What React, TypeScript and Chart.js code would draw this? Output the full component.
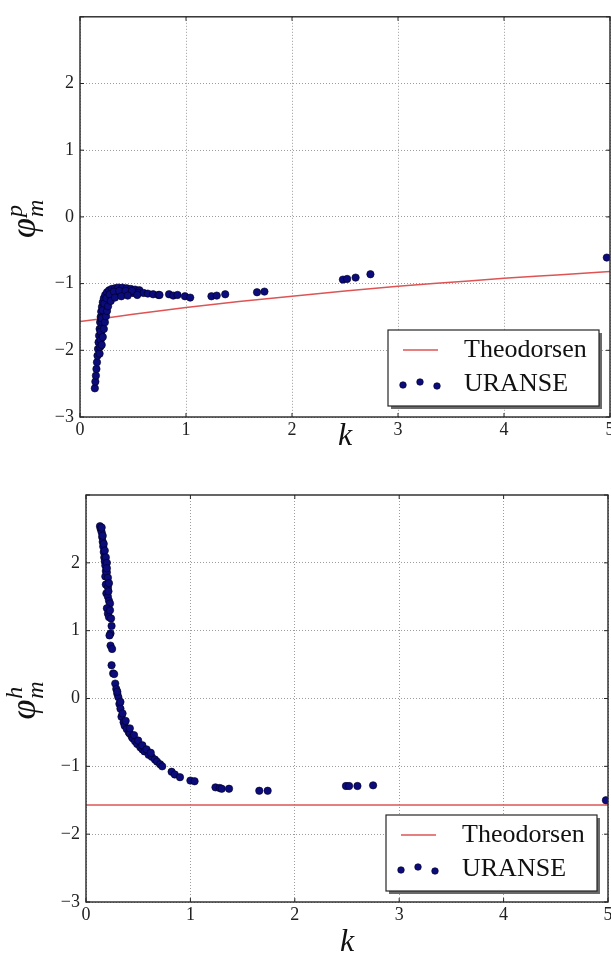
import React, { useEffect, useRef } from 'react';
import { Chart, registerables } from 'chart.js';

Chart.register(...registerables);

// ---------- data ----------
const kTicks = [0, 1, 2, 3, 4, 5];
const phiTicks = [-3, -2, -1, 0, 1, 2, 3];

const theoKPitch = [0, 0.5, 1, 1.5, 2, 2.5, 3, 3.5, 4, 4.5, 5];
const theoPhiPitch = [-1.57, -1.46, -1.36, -1.27, -1.19, -1.11, -1.04, -0.98, -0.92, -0.87, -0.82];

const theoKHeave = [0, 5];
const theoPhiHeave = [-1.57, -1.57];

const uranseKPitch = [
  0.140, 0.145, 0.150, 0.155, 0.160, 0.165, 0.170, 0.175, 0.180, 0.185,
  0.190, 0.195, 0.200, 0.207, 0.215, 0.225, 0.238, 0.255, 0.275, 0.300,
  0.330, 0.360, 0.400, 0.440, 0.480, 0.520, 0.560,
  0.185, 0.190, 0.195, 0.200, 0.205, 0.210, 0.218, 0.226, 0.235, 0.245,
  0.258, 0.275, 0.295, 0.320, 0.350, 0.380, 0.420, 0.460, 0.500, 0.550,
  0.600, 0.640, 0.690, 0.740,
  0.195, 0.205, 0.215, 0.230, 0.250, 0.280, 0.320, 0.370, 0.430, 0.490,
  0.205, 0.215, 0.225, 0.235, 0.245, 0.255, 0.265, 0.290, 0.330, 0.390, 0.450, 0.540,
  0.750, 0.840, 0.880, 0.920, 0.990, 1.040, 1.240, 1.290, 1.370, 1.670,
  1.740, 2.480, 2.520, 2.600, 2.740, 4.970,
];
const uransePhiPitch = [
  -2.57, -2.47, -2.38, -2.28, -2.18, -2.08, -1.98, -1.88, -1.78, -1.68,
  -1.58, -1.50, -1.42, -1.35, -1.28, -1.22, -1.17, -1.13, -1.10, -1.08,
  -1.07, -1.06, -1.06, -1.07, -1.08, -1.09, -1.10,
  -2.05, -1.95, -1.85, -1.76, -1.67, -1.58, -1.50, -1.43, -1.37, -1.31,
  -1.26, -1.22, -1.19, -1.17, -1.16, -1.15, -1.15, -1.14, -1.14, -1.14,
  -1.14, -1.15, -1.16, -1.17,
  -1.72, -1.52, -1.40, -1.30, -1.22, -1.16, -1.12, -1.11, -1.11, -1.11,
  -1.92, -1.80, -1.68, -1.58, -1.49, -1.41, -1.34, -1.26, -1.21, -1.19, -1.18, -1.17,
  -1.17, -1.16, -1.18, -1.17, -1.19, -1.21, -1.19, -1.18, -1.16, -1.13,
  -1.12, -0.94, -0.93, -0.91, -0.86, -0.61,
];

const uranseKHeave = [
  0.134, 0.140, 0.150, 0.155, 0.160, 0.165, 0.170, 0.175, 0.180, 0.185,
  0.190, 0.185, 0.200, 0.190, 0.210, 0.195, 0.210, 0.220, 0.230, 0.200,
  0.210, 0.220, 0.245, 0.235, 0.225, 0.235, 0.250, 0.245, 0.260, 0.270,
  0.280, 0.290, 0.300, 0.310, 0.320, 0.330, 0.340, 0.360, 0.370, 0.390,
  0.410, 0.420, 0.440, 0.450, 0.470, 0.490, 0.520, 0.540, 0.560, 0.600,
  0.630, 0.660, 0.680, 0.710, 0.730, 0.820, 0.850, 0.900, 1.000, 1.040,
  1.240, 1.280, 1.300, 1.370, 1.660, 1.740, 2.490, 2.520, 2.600, 2.750, 4.980,
  0.150, 0.160, 0.170, 0.180, 0.190, 0.200, 0.200, 0.210, 0.220, 0.215, 0.230, 0.240,
  0.300, 0.330, 0.350, 0.380, 0.420, 0.460, 0.500, 0.540, 0.580, 0.620,
];
const uransePhiHeave = [
  2.54, 2.50, 2.45, 2.38, 2.31, 2.24, 2.16, 2.08, 2.02, 1.96,
  1.88, 1.80, 1.86, 1.68, 1.64, 1.55, 1.50, 1.44, 1.40, 1.33,
  1.25, 1.20, 1.07, 0.96, 0.93, 0.78, 0.73, 0.49, 0.37, 0.36,
  0.22, 0.14, 0.07, 0.02, -0.08, -0.15, -0.27, -0.35, -0.40, -0.45,
  -0.50, -0.52, -0.57, -0.59, -0.63, -0.67, -0.72, -0.75, -0.78, -0.83,
  -0.86, -0.90, -0.93, -0.97, -1.00, -1.08, -1.12, -1.16, -1.21, -1.22,
  -1.31, -1.32, -1.33, -1.33, -1.36, -1.36, -1.29, -1.29, -1.29, -1.28, -1.50,
  2.52, 2.40, 2.28, 2.18, 2.08, 2.00, 1.92, 1.78, 1.70, 1.58, 1.30, 1.18,
  0.10, -0.05, -0.22, -0.33, -0.44, -0.54, -0.62, -0.69, -0.75, -0.80,
];

const legendLabels = ['Theodorsen', 'URANSE'];

// ---------- styles ----------
const SERIF = '"Liberation Serif", "DejaVu Serif", serif';
const THEO_COLOR = 'rgb(222,84,84)';
const DOT_COLOR = '#0b0b7c';
const DOT_EDGE = '#00001e';
const FRAME = '#262626';

const zip = (xs: number[], ys: number[]) => xs.map((x, i) => ({ x, y: ys[i] }));

const decorPlugin: any = {
  id: 'decor',
  afterDraw(chart: any, _args: any, opts: any) {
    const { ctx, chartArea: a, scales } = chart;
    const xs = scales.x;
    const ys = scales.y;
    ctx.save();
    const line = (x1: number, y1: number, x2: number, y2: number) => {
      ctx.beginPath();
      ctx.moveTo(x1, y1);
      ctx.lineTo(x2, y2);
      ctx.stroke();
    };
    // inward ticks on all four sides
    ctx.strokeStyle = FRAME;
    ctx.lineWidth = 1;
    for (const t of kTicks) {
      const px = xs.getPixelForValue(t);
      line(px, a.bottom, px, a.bottom - 4);
      line(px, a.top, px, a.top + 4);
    }
    for (const t of phiTicks) {
      const py = ys.getPixelForValue(t);
      line(a.left, py, a.left + 4, py);
      line(a.right, py, a.right - 4, py);
    }
    // frame
    ctx.lineWidth = 1.4;
    ctx.strokeRect(a.left, a.top, a.right - a.left, a.bottom - a.top);

    // x title
    ctx.fillStyle = '#111';
    ctx.font = `italic 32px ${SERIF}`;
    ctx.textAlign = 'center';
    ctx.textBaseline = 'middle';
    ctx.fillText('k', (a.left + a.right) / 2, opts.kY);

    // y title  φ_m^sup (rotated)
    ctx.save();
    ctx.translate(35, (a.top + a.bottom) / 2 + 2);
    ctx.rotate(-Math.PI / 2);
    ctx.textAlign = 'left';
    ctx.textBaseline = 'alphabetic';
    const big = `italic 36px ${SERIF}`;
    const small = `italic 24px ${SERIF}`;
    ctx.font = big;
    const wPhi = ctx.measureText('φ').width;
    ctx.font = small;
    const wSup = ctx.measureText(opts.sup).width;
    const wSub = ctx.measureText('m').width;
    const total = wPhi + 1 + Math.max(wSup, wSub);
    const x0 = -total / 2;
    ctx.font = big;
    ctx.fillText('φ', x0, 0);
    ctx.font = small;
    ctx.fillText(opts.sup, x0 + wPhi + 1, -13);
    ctx.fillText('m', x0 + wPhi + 1, 8);
    ctx.restore();

    // legend
    const lw = 211;
    const lh = 76;
    const lx = a.right - 11 - lw;
    const ly = a.bottom - 11 - lh;
    ctx.fillStyle = '#6a6a6a';
    ctx.fillRect(lx + 3, ly + 3, lw, lh);
    ctx.fillStyle = '#ffffff';
    ctx.fillRect(lx, ly, lw, lh);
    ctx.strokeStyle = FRAME;
    ctx.lineWidth = 1.2;
    ctx.strokeRect(lx, ly, lw, lh);
    ctx.strokeStyle = THEO_COLOR;
    ctx.lineWidth = 1.5;
    line(lx + 15, ly + 20, lx + 50, ly + 20);
    const dots = [[15, 55], [32, 52], [49, 56]];
    for (const [dx, dy] of dots) {
      ctx.beginPath();
      ctx.arc(lx + dx, ly + dy, 3.3, 0, Math.PI * 2);
      ctx.fillStyle = DOT_COLOR;
      ctx.fill();
      ctx.strokeStyle = DOT_EDGE;
      ctx.lineWidth = 0.6;
      ctx.stroke();
    }
    ctx.fillStyle = '#111';
    ctx.font = `26px ${SERIF}`;
    ctx.textAlign = 'left';
    ctx.textBaseline = 'middle';
    ctx.fillText(legendLabels[0], lx + 76, ly + 20);
    ctx.fillText(legendLabels[1], lx + 76, ly + 54);
    ctx.restore();
  },
};

function buildConfig(p: {
  kU: number[]; phiU: number[]; kT: number[]; phiT: number[];
  sup: string; padTop: number; padRight: number; yWidth: number; xHeight: number; kY: number;
}): any {
  const tickFont = { family: SERIF, size: 18 };
  return {
    type: 'scatter',
    data: {
      datasets: [
        {
          label: legendLabels[0],
          data: zip(p.kT, p.phiT),
          showLine: true,
          borderColor: THEO_COLOR,
          borderWidth: 1.5,
          pointRadius: 0,
          cubicInterpolationMode: 'monotone',
          order: 2,
        },
        {
          label: legendLabels[1],
          data: zip(p.kU, p.phiU),
          showLine: false,
          pointRadius: 3.7,
          pointBackgroundColor: DOT_COLOR,
          pointBorderColor: DOT_EDGE,
          pointBorderWidth: 0.6,
          order: 1,
        },
      ],
    },
    options: {
      responsive: false,
      animation: false,
      devicePixelRatio: 1,
      layout: { padding: { top: p.padTop, right: p.padRight, left: 0, bottom: 0 } },
      plugins: {
        legend: { display: false },
        tooltip: { enabled: false },
        decor: { sup: p.sup, kY: p.kY },
      },
      scales: {
        x: {
          type: 'linear',
          min: kTicks[0],
          max: kTicks[kTicks.length - 1],
          afterFit: (s: any) => { s.height = p.xHeight; },
          ticks: {
            stepSize: 1,
            maxRotation: 0,
            autoSkip: false,
            padding: 2,
            color: '#222',
            font: tickFont,
            callback: (v: number) => String(v),
          },
          grid: { color: '#9c9c9c', lineWidth: 1, drawTicks: false },
          border: { display: false, dash: [1, 2] },
        },
        y: {
          type: 'linear',
          min: phiTicks[0],
          max: phiTicks[phiTicks.length - 1],
          afterFit: (s: any) => { s.width = p.yWidth; },
          ticks: {
            stepSize: 1,
            padding: 6,
            color: '#222',
            font: tickFont,
            callback: (v: number) =>
              v === phiTicks[phiTicks.length - 1] ? null : v < 0 ? '\u2212' + Math.abs(v) : String(v),
          },
          grid: { color: '#9c9c9c', lineWidth: 1, drawTicks: false },
          border: { display: false, dash: [1, 2] },
        },
      },
    },
    plugins: [decorPlugin],
  };
}

export default function App() {
  const topRef = useRef<HTMLCanvasElement>(null);
  const botRef = useRef<HTMLCanvasElement>(null);

  useEffect(() => {
    document.body.style.margin = '0';
    const c1 = new Chart(
      topRef.current as HTMLCanvasElement,
      buildConfig({
        kU: uranseKPitch, phiU: uransePhiPitch, kT: theoKPitch, phiT: theoPhiPitch,
        sup: 'p', padTop: 7, padRight: 30, yWidth: 80, xHeight: 43, kY: 437,
      })
    );
    const c2 = new Chart(
      botRef.current as HTMLCanvasElement,
      buildConfig({
        kU: uranseKHeave, phiU: uransePhiHeave, kT: theoKHeave, phiT: theoPhiHeave,
        sup: 'h', padTop: 35, padRight: 32, yWidth: 86, xHeight: 58, kY: 483,
      })
    );
    return () => {
      c1.destroy();
      c2.destroy();
    };
  }, []);

  return (
    <div style={{ position: 'relative', width: 611, height: 960, overflow: 'hidden', background: '#fff' }}>
      <canvas ref={topRef} width={640} height={460} style={{ position: 'absolute', left: 0, top: 0 }} />
      <canvas ref={botRef} width={640} height={500} style={{ position: 'absolute', left: 0, top: 460 }} />
    </div>
  );
}
